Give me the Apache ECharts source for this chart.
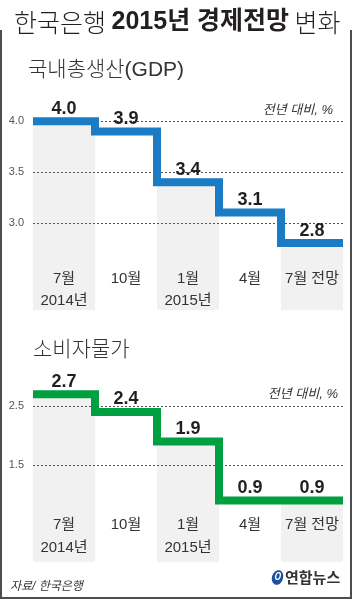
<!DOCTYPE html>
<html>
<head>
<meta charset="utf-8">
<script src="https://cdn.jsdelivr.net/npm/echarts@6/dist/echarts.min.js"></script>
<style>
html, body { margin: 0; padding: 0; background: #fff; }
#chart { width: 353px; height: 600px; }
</style>
</head>
<body>
<div id="chart"></div>
<script>
// 기간
const months = ['7월', '10월', '1월', '4월', '7월 전망']
const years = ['2014년', '', '2015년', '', '']
// 국내총생산(GDP) 전망, 전년 대비 %
const gdpValues = [4.0, 3.9, 3.4, 3.1, 2.8]
const gdpTicks = [3.0, 3.5, 4.0]
// 소비자물가 전망, 전년 대비 %
const cpiValues = [2.7, 2.4, 1.9, 0.9, 0.9]
const cpiTicks = [1.5, 2.5]

const FONT = "'Liberation Sans', 'Noto Sans CJK KR', sans-serif"
const KR = "'Noto Sans CJK KR', sans-serif"
const BAND = '#f1f1f1'

// 회색 띠 (짝수 칸만)
function bandItem (params, api) {
    if (params.dataIndex % 2) return null
    const top = api.coord([api.value(0), api.value(1)])
    const w = api.size([1, 0])[0]
    const cs = params.coordSys
    return {
        type: 'rect',
        shape: { x: top[0] - w / 2, y: top[1], width: w, height: cs.y + cs.height - top[1] },
        style: { fill: BAND }
    }
}

function makeSeries (values, ticks, color, g) {
    const catIdx = g * 2
    const valIdx = g * 2 + 1
    const stepData = values.map((v, i) => [i, v]).concat([[values.length, values[values.length - 1]]])
    return [
        {
            type: 'custom',
            xAxisIndex: catIdx,
            yAxisIndex: g,
            z: 1,
            silent: true,
            renderItem: bandItem,
            data: values.map((v, i) => [i, v]),
            markLine: {
                silent: true,
                symbol: 'none',
                z: 2,
                animation: false,
                lineStyle: { color: '#555', type: [2, 2], width: 1 },
                label: {
                    position: 'start',
                    distance: 9,
                    color: '#555',
                    fontSize: 11,
                    fontFamily: FONT,
                    formatter: p => p.value.toFixed(1)
                },
                data: ticks.map(v => ({ yAxis: v }))
            }
        },
        {
            type: 'line',
            xAxisIndex: valIdx,
            yAxisIndex: g,
            z: 4,
            step: 'end',
            symbol: 'none',
            silent: true,
            lineStyle: { color: color, width: 8, join: 'miter', cap: 'butt' },
            data: stepData
        },
        {
            type: 'scatter',
            xAxisIndex: catIdx,
            yAxisIndex: g,
            z: 5,
            symbolSize: 1,
            silent: true,
            itemStyle: { color: 'rgba(0,0,0,0)', opacity: 1 },
            label: {
                show: true,
                position: 'top',
                distance: 3,
                color: '#231f20',
                fontSize: 18,
                fontWeight: 'bold',
                fontFamily: FONT,
                formatter: p => p.value.toFixed(1)
            },
            data: values
        }
    ]
}

function catAxis (g, margin, lh) {
    return {
        type: 'category',
        gridIndex: g,
        z: 3,
        data: months,
        boundaryGap: true,
        axisLine: { show: false },
        axisTick: { show: false },
        axisLabel: {
            inside: true,
            margin: margin,
            color: '#333',
            fontSize: 15,
            lineHeight: lh,
            fontFamily: FONT,
            interval: 0,
            formatter: (v, i) => v + '\n' + (years[i] || ' ')
        }
    }
}

function valAxis (g) {
    return { type: 'value', gridIndex: g, min: 0, max: months.length, show: false }
}

let myChart = echarts.init(document.getElementById('chart'))
myChart.setOption({
    animation: false,
    grid: [
        { left: 33, right: 10, top: 100, height: 210 },
        { left: 33, right: 10, top: 370, height: 192 }
    ],
    xAxis: [catAxis(0, -2, 22), valAxis(0), catAxis(1, 3, 23), valAxis(1)],
    yAxis: [
        { type: 'value', gridIndex: 0, min: 2.14, max: 4.21, show: false },
        { type: 'value', gridIndex: 1, min: -0.14, max: 3.11, show: false }
    ],
    series: makeSeries(gdpValues, gdpTicks, '#1b7bc4', 0).concat(makeSeries(cpiValues, cpiTicks, '#00a040', 1)),
    graphic: [
        { // 테두리
            type: 'polyline',
            silent: true,
            shape: { points: [[1, 30], [1, 598], [351, 598], [351, 30]] },
            style: { stroke: '#4d4d4d', lineWidth: 2, fill: null }
        },
        {
            type: 'text', x: 14, y: 22,
            style: {
                text: '{l|한국은행 }{b|2015년 경제전망}{l| 변화}',
                verticalAlign: 'middle',
                rich: {
                    l: { fontSize: 25, fontFamily: KR, fontWeight: 300, fill: '#231f20' },
                    b: { fontSize: 25, fontFamily: FONT, fontWeight: 'bold', fill: '#231f20' }
                }
            }
        },
        {
            type: 'text', x: 28, y: 70,
            style: { text: '국내총생산(GDP)', fontSize: 21, fontFamily: FONT, fontWeight: 300, fill: '#333', verticalAlign: 'middle' }
        },
        {
            type: 'text', x: 33, y: 348,
            style: { text: '소비자물가', fontSize: 21, fontFamily: KR, fontWeight: 300, fill: '#333', verticalAlign: 'middle' }
        },
        {
            type: 'text', x: 333, y: 110, z: 10,
            style: { text: '전년 대비, %', fontSize: 13, fontStyle: 'italic', fontFamily: FONT, fill: '#333', align: 'right', verticalAlign: 'middle' }
        },
        {
            type: 'text', x: 338, y: 394, z: 10,
            style: { text: '전년 대비, %', fontSize: 13, fontStyle: 'italic', fontFamily: FONT, fill: '#333', align: 'right', verticalAlign: 'middle' }
        },
        {
            type: 'text', x: 10, y: 587,
            style: { text: '자료/ 한국은행', fontSize: 12, fontStyle: 'italic', fontFamily: FONT, fill: '#333', verticalAlign: 'middle' }
        },
        { // 연합뉴스 로고
            type: 'ellipse', x: 277.5, y: 577.5, rotation: -0.3,
            shape: { cx: 0, cy: 0, rx: 5.5, ry: 7.5 },
            style: { fill: '#1c4f9e' }
        },
        {
            type: 'ellipse', x: 278, y: 576, rotation: -0.3,
            shape: { cx: 0, cy: 0, rx: 2.2, ry: 3.5 },
            style: { fill: null, stroke: '#fff', lineWidth: 1.3 }
        },
        {
            type: 'text', x: 285, y: 577,
            style: { text: '연합뉴스', fontSize: 15, fontWeight: 'bold', fontFamily: KR, fill: '#333', verticalAlign: 'middle' }
        }
    ]
})
window.addEventListener('resize', function () {
    myChart.resize()
})
</script>
</body>
</html>
